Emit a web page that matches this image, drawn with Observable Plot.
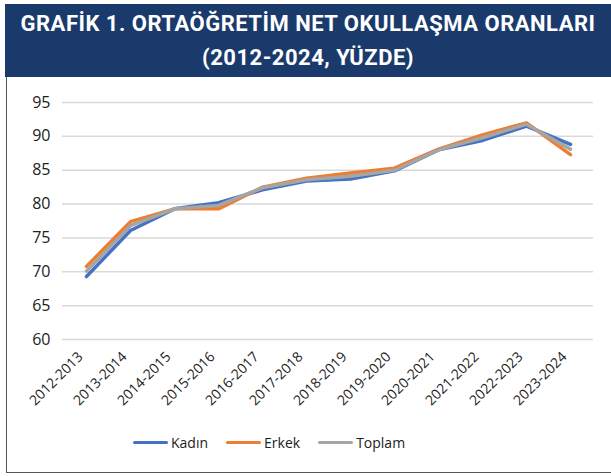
<!DOCTYPE html>
<html><head><meta charset="utf-8">
<script src="https://cdn.jsdelivr.net/npm/d3@7"></script>
<script src="https://cdn.jsdelivr.net/npm/@observablehq/plot@0.6"></script>
<style>
body{margin:0;width:611px;height:476px;background:#fff;position:relative;overflow:hidden;font-family:"Open Sans",sans-serif}
#banner{position:absolute;left:5px;top:4px;width:606px;height:73px;background:#1b3a6c;color:#fff;font-family:Roboto,sans-serif;font-weight:700;font-size:22px;letter-spacing:0.5px;text-align:center;line-height:34px;padding-top:3px;box-sizing:border-box;white-space:nowrap}
#box{position:absolute;left:6px;top:77px;width:605px;height:396px;border-left:1.5px solid #555;border-bottom:1.5px solid #555;box-sizing:border-box}
#chart{position:absolute;left:0;top:77px}
#legend{position:absolute;left:133px;top:433px;display:flex;align-items:center;font-size:14px;color:#222}
.sw{display:inline-block;width:35px;height:3.5px;border-radius:1.5px;margin-right:3px}
.it{display:flex;align-items:center;margin-right:18px}
</style></head>
<body>
<div id="banner">GRAFİK 1. ORTAÖĞRETİM NET OKULLAŞMA ORANLARI<br>(2012-2024, YÜZDE)</div>
<div id="box"></div>
<div id="chart"></div>
<div id="legend"></div>
<script>
const years = ["2012-2013","2013-2014","2014-2015","2015-2016","2016-2017","2017-2018","2018-2019","2019-2020","2020-2021","2021-2022","2022-2023","2023-2024"];
const kadin  = [69.3, 76.1, 79.3, 80.2, 82.1, 83.4, 83.7, 84.9, 88.0, 89.4, 91.5, 88.8];
const erkek  = [70.8, 77.4, 79.3, 79.3, 82.5, 83.8, 84.6, 85.3, 88.1, 90.2, 92.0, 87.3];
const toplam = [70.1, 76.8, 79.3, 79.8, 82.4, 83.6, 84.1, 85.0, 88.0, 89.8, 91.8, 88.1];
const yTicks = [60, 65, 70, 75, 80, 85, 90, 95];
const seriesNames = ["Kadın", "Erkek", "Toplam"];
const seriesColors = ["#4472c4", "#ed7d31", "#a5a5a5"];

const seriesValues = [kadin, erkek, toplam];
const data = seriesNames.flatMap((s, i) => years.map((y, j) => ({series: s, year: y, value: seriesValues[i][j]})));

const chart = Plot.plot({
  width: 611,
  height: 345,
  marginTop: 25,
  marginBottom: 83,
  marginLeft: 62,
  marginRight: 18,
  style: {fontFamily: "'Open Sans', sans-serif", color: "#222", background: "transparent"},
  x: {type: "point", domain: years, padding: 0.5, label: null},
  y: {domain: [60, 95], label: null},
  color: {domain: seriesNames, range: seriesColors},
  marks: [
    Plot.gridY(yTicks, {stroke: "#d9d9d9", strokeOpacity: 1, strokeWidth: 1.5}),
    Plot.axisY(yTicks, {tickSize: 0, tickPadding: 12, fontSize: 16, label: null}),
    Plot.axisX({tickRotate: -45, tickSize: 0, tickPadding: 10, dx: -6, dy: 5, fontSize: 14, label: null}),
    Plot.line(data, {x: "year", y: "value", z: "series", stroke: "series", strokeWidth: 3.5, strokeLinejoin: "round"})
  ]
});
document.getElementById("chart").appendChild(chart);

const leg = document.getElementById("legend");
seriesNames.forEach((s, i) => {
  const it = document.createElement("div");
  it.className = "it";
  it.innerHTML = `<span class="sw" style="background:${seriesColors[i]}"></span><span>${s}</span>`;
  leg.appendChild(it);
});
</script>
</body></html>
